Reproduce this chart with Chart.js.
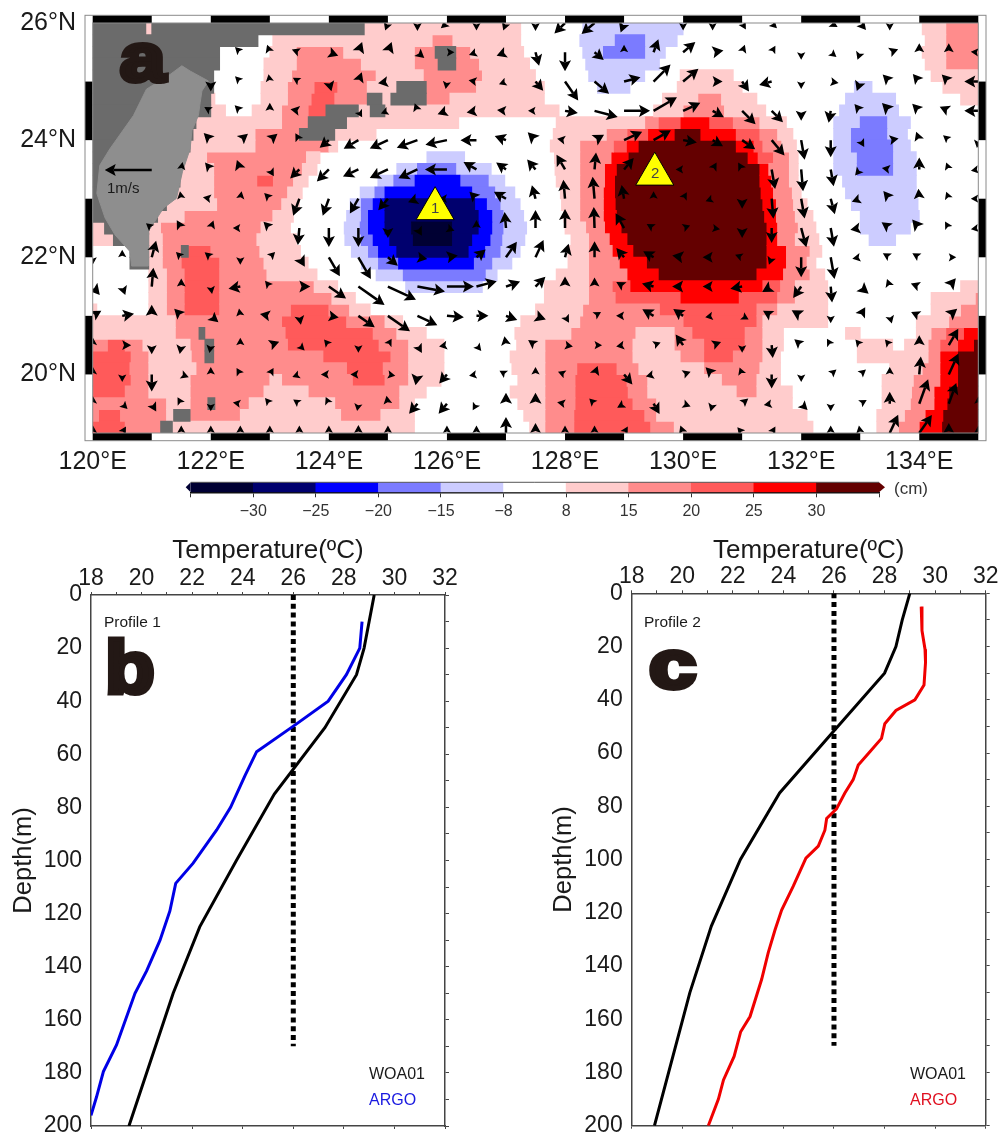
<!DOCTYPE html>
<html>
<head>
<meta charset="utf-8">
<title>SSH anomaly and temperature profiles</title>
<script src="https://cdn.jsdelivr.net/npm/chart.js@4/dist/chart.umd.min.js"></script>
<style>
  html, body { margin: 0; padding: 0; background: #fff; overflow: hidden; }
  #page { position: relative; width: 1003px; height: 1135px; overflow: hidden; font-family: "Liberation Sans", sans-serif; }
  canvas { position: absolute; }
  .txt { position: absolute; white-space: nowrap; line-height: 1; color: #1a1a1a; }
  .big { font-weight: bold; color: #231815; -webkit-text-stroke: 5px #231815; transform-origin: left top; }
</style>
</head>
<body>
<div id="page">
  <canvas id="mapChart" style="left:0;top:0"></canvas>
  <canvas id="barChart" style="left:0;top:470px"></canvas>
  <canvas id="profile1" style="left:0;top:530px"></canvas>
  <canvas id="profile2" style="left:540px;top:530px"></canvas>

  <div class="txt big" style="left:120px;top:23px;font-size:68px;transform:scaleX(1.2)">a</div>
  <div class="txt big" style="left:105px;top:631px;font-size:74px;transform:scaleX(1.1)">b</div>
  <div class="txt big" style="left:649px;top:630px;font-size:68px;transform:scaleX(1.25)">c</div>
  <div class="txt" style="left:107px;top:180px;font-size:15px">1m/s</div>
  <div class="txt" style="left:431px;top:200px;font-size:15px;color:#444">1</div>
  <div class="txt" style="left:651px;top:165px;font-size:15px;color:#444">2</div>
  <div class="txt" style="left:894px;top:480px;font-size:17px;color:#333">(cm)</div>
  <div class="txt" style="left:104px;top:614px;font-size:15.5px">Profile 1</div>
  <div class="txt" style="left:644px;top:614px;font-size:15.5px">Profile 2</div>
  <div class="txt" style="left:369px;top:1066px;font-size:16px">WOA01</div>
  <div class="txt" style="left:369px;top:1092px;font-size:16px;color:#1a1ae0">ARGO</div>
  <div class="txt" style="left:910px;top:1066px;font-size:16px">WOA01</div>
  <div class="txt" style="left:910px;top:1092px;font-size:16px;color:#e01020">ARGO</div>
</div>

<script>
// Axis ticks
const lonTicks = [120, 122, 124, 126, 128, 130, 132, 134];
const latTicks = [20, 22, 24, 26];
const barLabels = ['\u221230', '\u221225', '\u221220', '\u221215', '\u22128', '8', '15', '20', '25', '30'];

// Class colours: E..A negative, a..e positive, L land
const heatColors = {
    L: '#6b6b6b', E: '#000033', D: '#00006e', C: '#0000ff', B: '#7b7bff', A: '#ccccff',
    a: '#ffcccc', b: '#ff8c8c', c: '#ff5a5a', d: '#ff0000', e: '#640000'
};
const barClasses = ['E', 'D', 'C', 'B', 'A', '0', 'a', 'b', 'c', 'd', 'e'];

// Height anomaly classes, one row per latitude: "lon:class" runs up to the next lon
const heatLats = [25.9, 25.7, 25.5, 25.3, 25.1, 24.9, 24.7, 24.5, 24.3, 24.1, 23.9, 23.7, 23.5, 23.3, 23.1, 22.9, 22.7, 22.5,
    22.3, 22.1, 21.9, 21.7, 21.5, 21.3, 21.1, 20.9, 20.7, 20.5, 20.3, 20.1, 19.9, 19.7, 19.5, 19.3, 19.1];
const heatRows = [
    '120:L 120.9:a 121:L 124.6:a 127.25:0 128.3:A 130:0 134.05:a 134.45:b',
    '120:L 122.8:0 123.05:a 125.75:b 126.1:a 127.25:0 128.25:A 128.85:B 129.35:A 129.9:0 134.1:a 134.45:b',
    '120:L 122.15:0 123:a 123.45:b 124.25:a 125.45:b 125.8:L 126.15:b 126.4:a 127.3:0 128.3:A 128.65:B 129.35:A 129.7:0 134.05:a 134.45:b',
    '120:L 122.15:0 122.9:a 123.45:b 124.55:a 125.45:b 125.85:L 126.15:b 126.55:a 127.4:0 128.35:A 129.6:0 134.1:a 134.45:b',
    '120:L 122.05:0 122.9:a 123.37:b 124.8:a 125.6:b 126.6:a 127.5:0 128.4:A 129.35:0 129.95:a 130.85:0 134.2:a',
    '120:L 122.05:0 122.85:a 123.3:b 123.75:c 124.15:b 124.65:a 125.15:L 125.65:b 126.5:a 127.65:0 128.55:A 129.1:0 129.9:a 131:0 132.9:A 133.2:0 134.4:a',
    '120:L 122:a 122.07:0 122.85:a 123.3:b 123.7:c 124.1:b 124.65:L 124.9:a 125.05:L 125.65:b 126.05:a 127.65:0 129.65:a 130.25:b 130.65:a 131.25:0 132.75:A 133.6:0 134.7:a',
    '120:L 122:a 122.25:0 122.7:a 123.2:b 123.65:c 123.95:L 124.5:a 124.7:L 124.95:a 127.9:0 129.5:a 130:b 130.7:a 131.4:0 132.65:A 133.65:0',
    '120:L 121.75:a 123.2:b 123.65:L 124.3:a 126.2:0 127.85:a 129.35:b 129.58:c 129.95:d 130.45:c 130.85:b 131.3:a 131.75:0 132.55:A 133:B 133.45:A 133.85:0',
    '120:L 121.7:a 122.75:b 123.5:L 124.1:a 124.8:0 127.8:a 128.7:b 129.05:c 129.4:d 129.85:e 130.3:d 130.9:c 131.3:b 131.6:a 131.86:0 132.55:A 132.85:B 133.45:A 133.8:0',
    '120:L 121.65:a 122.75:b 124:a 124.15:0 127.75:a 128.25:b 128.82:c 129.04:d 129.24:e 130.9:d 131.2:c 131.35:b 131.67:a 131.92:0 132.55:A 132.85:B 133.55:A 133.85:0',
    '120:L 121.55:a 121.93:b 123.62:a 123.85:0 125.66:A 126.3:0 127.82:a 128.25:b 128.78:d 129.07:e 131.1:d 131.27:c 131.53:b 131.8:a 131.95:0 132.55:A 132.95:B 133.55:A 133.95:0',
    '120:L 121.5:a 122.05:b 123.55:a 123.8:0 125.15:A 125.5:B 126.15:A 126.75:0 127.83:a 128.25:b 128.67:d 128.87:e 131.3:d 131.45:b 131.8:a 131.95:0 132.55:A 132.95:B 133.55:A 133.95:0',
    '120:L 121.48:a 122.05:b 122.78:c 123.06:b 123.4:a 123.65:0 124.83:A 125.1:B 125.46:C 126.22:B 126.7:A 126.98:0 127.85:a 128.25:b 128.67:d 128.84:e 131.3:d 131.5:b 131.8:a 131.95:0 132.7:A 133.95:0',
    '120:L 121.4:a 122.05:b 123.3:a 123.55:0 124.53:A 124.78:B 124.95:C 126.42:B 126.81:A 127.15:0 127.92:a 128.25:b 128.65:d 128.84:e 131.32:d 131.53:b 131.85:a 132:0 132.75:A 133.95:0',
    '120:L 121.25:a 122.1:b 123.2:a 123.5:0 124.36:A 124.55:B 124.75:C 124.95:D 126.47:C 126.67:B 126.9:A 127.24:0 127.94:a 128.25:b 128.65:d 128.85:e 131.35:d 131.58:b 131.87:a 132.1:0 132.85:A 133.98:0',
    '120:L 121.1:a 121.55:b 123.05:a 123.4:0 124.3:A 124.55:B 124.67:C 124.95:D 126.53:C 126.76:B 126.95:A 127.3:0 127.98:a 128.25:b 128.65:d 128.87:e 131.38:d 131.58:b 131.9:a 132.2:0 133:A 134:0',
    '120:a 120.2:L 120.95:a 121.15:b 122.85:a 123.35:0 124.26:A 124.53:B 124.67:C 124.95:D 125.4:E 126.08:D 126.53:C 126.76:B 126.95:A 127.35:0 128:a 128.35:b 128.67:d 128.95:e 131.42:d 131.6:b 131.95:a 132.25:0 133:A 133.85:0',
    '120:a 120.35:L 120.95:a 121.18:b 122.78:a 123.45:0 124.27:A 124.55:B 124.75:C 125.03:D 125.43:E 126.08:D 126.42:C 126.73:B 126.93:A 127.32:0 128.1:a 128.4:b 128.75:d 129.05:e 131.42:d 131.6:b 131.9:a 132.3:0 133.15:A 133.6:0',
    '120:0 120.63:L 120.95:a 121.18:b 121.5:L 121.62:c 122:b 122.83:a 123.52:0 124.38:A 124.67:B 124.84:C 125.15:D 126.36:C 126.64:B 126.9:A 127.24:0 128.05:a 128.4:b 128.8:d 129.15:e 131.42:d 131.75:b 132.15:a 132.35:0',
    '120:0 120.63:L 120.95:a 121.18:b 121.5:c 122.15:b 122.9:a 123.65:0 124.55:A 124.84:B 125.18:C 126.45:B 126.76:A 127.1:0 128.05:a 128.4:b 128.92:d 129.38:e 131.42:d 131.75:b 132.1:a 132.25:0',
    '120:0 120.95:a 121.25:b 121.55:c 122.15:b 122.95:a 123.8:0 124.8:A 125.26:B 126.65:A 126.85:0 127.85:a 128.4:b 129.05:d 129.58:e 131.25:d 131.7:b 132.15:a 132.4:0',
    '120:0 120.95:a 121.25:b 121.55:c 122.15:b 123.75:a 124.15:0 125.3:A 126.6:0 127.65:a 128.4:b 128.8:c 129.1:d 131.35:c 131.65:b 131.9:a 132.45:0 134.7:a',
    '120:0 120.95:a 121.25:b 121.55:c 122.15:b 124.05:a 124.45:0 127.65:a 128.4:b 128.85:c 129.95:d 130.95:c 131.6:b 131.9:a 132.45:0 134.2:a 134.95:b',
    '120:a 120.07:0 120.95:a 121.25:b 121.55:c 122.15:b 123.35:c 124:b 124.35:a 124.7:0 127.5:a 128.3:b 129.6:c 131.25:b 131.6:a 132.45:0 134.2:a 134.7:b',
    '120:a 121.4:b 123.2:c 124.3:b 124.95:a 125.25:0 127.25:a 128.25:b 130:c 131.25:b 131.35:a 132.45:0 133.95:a 134.5:b',
    '120:a 121.4:b 121.8:L 121.9:b 123.26:c 124.75:b 125.15:a 125.65:0 127.15:a 128.1:b 129.2:a 129.85:b 130.15:c 131.05:b 131.35:a 131.7:0 132.75:a 133:0 133.95:a 134.2:b 134.45:c 134.75:d',
    '120:b 120.25:c 120.55:b 120.85:a 121.65:b 121.9:L 122.05:b 123.3:c 124.85:b 125.35:a 125.95:0 127.18:a 127.66:b 129.15:a 129.85:b 130.35:c 131.05:b 131.35:a 131.7:0 132.95:a 133.55:0 133.75:a 134.15:b 134.35:c 134.65:d 134.92:e',
    '120:c 120.65:b 120.95:a 121.67:b 121.9:L 122.05:b 123.9:c 125.05:b 125.35:a 125.95:0 127.07:a 127.66:b 129.15:a 129.95:b 130.35:c 130.85:b 131.35:a 131.65:0 132.95:a 134.15:b 134.35:d 134.65:e',
    '120:c 120.63:b 120.95:a 121.75:b 124.3:c 124.92:b 125.35:a 125.95:0 127.1:a 127.66:b 128.2:c 128.88:b 129.25:a 130.35:b 131.3:a 131.65:0 133.5:a 134.05:b 134.35:d 134.65:e',
    '120:c 120.65:b 120.95:a 121.65:b 123:a 123.2:b 124.4:c 124.95:b 125.35:a 125.9:0 127.2:a 127.66:b 128.17:c 129.05:b 129.4:a 130.65:b 131.25:a 131.65:0 133.37:a 133.9:b 134.35:d 134.65:e',
    '120:c 120.55:b 120.95:a 121.65:b 122.9:a 123.65:b 125.2:a 125.65:0 127.07:a 127.66:b 128.17:c 129.07:b 129.4:a 130.9:b 131.25:a 131.85:0 133.37:a 133.87:b 134.25:d 134.5:e',
    '120:b 121.25:a 121.65:b 121.95:L 122.07:b 122.65:a 124.1:b 125.2:a 125.45:0 127.2:a 127.66:b 128.17:c 129.15:b 129.55:a 131.85:0 133.37:a 133.85:b 134.25:d 134.47:e',
    '120:b 120.1:c 120.47:b 121.25:a 121.37:L 121.65:b 122.5:a 124.2:b 124.88:a 125.45:0 127.3:a 127.66:b 128.15:c 129.35:b 129.55:a 132.1:0 133.28:a 133.75:b 134.1:d 134.4:e',
    '120:c 120.55:b 121.15:L 121.35:a 125.45:0 127.4:a 127.66:b 128.15:c 129.45:b 129.85:a 132.2:0 133.28:a 133.65:b 134:d 134.38:e'
];

// Taiwan outline
const taiwanLon = [121.51, 121.65, 121.96, 121.85, 121.82, 121.79, 121.68, 121.65, 121.52, 121.42, 121.2, 120.94, 120.94, 120.94,
    120.66, 120.63, 120.38, 120.21, 120.07, 120.12, 120.29, 120.69, 120.91, 121.31, 121.51];
const taiwanLat = [25.27, 25.18, 25.01, 24.84, 24.64, 24.42, 24.16, 23.85, 23.46, 23.01, 22.84, 22.44, 22.21, 21.85,
    21.85, 22.1, 22.38, 22.67, 23.09, 23.57, 23.85, 24.42, 24.87, 25.12, 25.27];

// Current vectors on the half degree grid
const _ = null;
const arrowLons = [120, 120.5, 121, 121.5, 122, 122.5, 123, 123.5, 124, 124.5, 125, 125.5, 126, 126.5, 127, 127.5, 128, 128.5, 129, 129.5,
    130, 130.5, 131, 131.5, 132, 132.5, 133, 133.5, 134, 134.5, 135];
const arrowLats = [26, 25.5, 25, 24.5, 24, 23.5, 23, 22.5, 22, 21.5, 21, 20.5, 20, 19.5, 19];
// direction in degrees, 0 = east, 90 = north
const arrowDir = [
    [_,_,_,_,_,_,_,_,_,_,250,270,220,270,250,270,225,220,250,90,270,270,300,315,_,330,310,270,_,_,_],
    [_,_,_,_,_,135,110,160,340,70,70,320,0,200,200,285,270,320,90,70,40,10,70,60,270,320,250,20,90,90,175],
    [_,_,_,_,270,135,100,150,285,70,190,_,260,170,200,310,305,320,15,45,40,0,305,195,270,350,250,135,130,135,180],
    [_,_,_,_,150,135,90,170,_,300,200,110,200,190,175,180,350,345,0,30,25,330,315,315,270,260,130,135,135,155,180],
    [_,_,_,_,135,40,40,120,220,210,205,200,192,180,160,135,170,30,25,30,350,330,325,310,280,270,300,10,110,140,260],
    [_,_,_,80,130,110,300,225,225,205,205,205,180,150,145,130,120,85,50,30,180,60,120,280,275,280,230,170,90,110,190],
    [_,_,_,100,170,80,135,250,250,240,230,200,180,135,150,105,95,95,100,90,60,200,270,275,280,285,200,130,95,110,180],
    [_,_,140,120,70,180,135,265,270,270,270,300,340,90,95,90,90,92,120,150,20,350,270,270,285,280,190,145,130,120,190],
    [270,90,75,135,140,270,45,300,300,300,320,350,10,40,55,65,75,90,130,150,170,180,160,250,270,280,190,150,150,0,_],
    [310,290,85,90,280,190,130,0,325,325,335,350,0,15,20,45,90,90,150,165,180,180,190,210,235,275,320,110,160,50,_],
    [30,10,90,135,320,100,170,280,350,325,325,335,355,0,340,340,300,30,180,150,145,190,330,150,150,270,60,285,155,40,_],
    [90,0,270,260,260,90,20,315,130,270,60,300,190,310,100,145,350,0,190,20,125,20,270,275,140,120,130,130,90,60,_],
    [90,270,270,340,90,120,60,200,180,180,350,260,230,190,150,90,160,70,310,195,20,135,110,270,270,40,40,90,85,65,_],
    [90,315,300,120,270,170,130,145,115,260,100,230,230,240,90,90,170,135,210,300,340,255,40,190,315,270,30,90,70,70,90],
    [90,60,_,90,90,90,90,90,90,90,90,_,90,90,90,90,90,90,60,_,110,_,130,60,_,90,100,65,55,90,90]
];
// speed, 47 = 1 m/s
const arrowSpeed = [
    [_,_,_,_,_,_,_,_,_,_,8,8,8,7,8,8,15,17,10,6,6,6,5,7,_,8,9,7,_,_,_],
    [_,_,_,_,_,5,8,8,10,11,11,9,5,8,10,14,19,12,5,14,16,11,8,6,5,6,8,9,9,9,5],
    [_,_,_,_,10,6,6,6,10,10,10,_,6,8,6,12,23,19,17,24,20,10,12,13,5,8,10,10,10,10,14],
    [_,_,_,_,5,8,8,9,_,5,6,8,10,10,9,6,13,24,26,27,19,13,19,16,10,12,9,11,10,10,14],
    [_,_,_,_,10,10,10,8,12,17,20,22,22,16,12,11,8,11,20,20,14,12,16,20,20,17,8,9,9,7,8],
    [_,_,_,6,9,10,8,13,17,17,20,21,22,15,12,13,17,17,15,8,5,8,8,20,22,17,8,8,12,6,4],
    [_,_,_,6,8,7,8,18,18,17,15,10,8,10,14,14,19,22,14,6,5,7,10,20,20,16,9,10,10,6,3],
    [_,_,6,9,8,6,9,17,19,19,10,9,8,8,16,18,19,21,17,8,7,7,10,15,20,19,10,10,11,6,4],
    [5,5,17,6,8,6,5,11,22,25,13,10,11,12,19,19,14,16,12,12,11,10,7,8,20,22,8,8,8,6,_],
    [11,9,19,8,7,12,6,11,21,32,31,28,27,21,15,14,10,9,9,12,11,10,12,11,14,16,11,8,9,11,_],
    [10,12,11,10,10,6,10,9,10,20,27,22,17,12,12,11,8,7,8,13,12,7,7,10,11,6,10,8,9,11,_],
    [8,9,9,9,8,6,10,7,7,7,7,9,8,6,9,9,8,6,8,7,13,9,7,13,9,6,7,5,10,19,_],
    [8,7,17,8,7,6,7,7,8,8,7,11,12,6,7,7,6,9,13,8,8,10,7,14,5,5,5,7,18,23,_],
    [8,6,9,5,6,7,7,5,6,7,8,13,13,7,11,11,8,5,8,12,8,8,8,8,9,5,6,12,26,22,6],
    [8,5,_,4,6,6,3,4,6,8,6,_,5,7,16,10,6,3,5,_,8,_,6,5,_,3,6,20,22,10,4]
];

// Reference arrow and the two profile sites
const refArrowLon = [121];
const refArrowLat = [23.49];
const refArrowDir = [180];
const refArrowSpeed = [47];
const siteLon = [125.8, 129.52];
const siteLat = [22.83, 23.42];

// Profile 1
const woaDepth = [0, 10, 20, 30, 50, 75, 100, 125, 150, 200];
const woaTemp1 = [29.2, 29.0, 28.8, 28.5, 27.25, 25.25, 23.75, 22.3, 21.25, 19.5];
const argoDepth1 = [10, 20, 30, 40, 49, 59, 68, 80, 88.5, 101, 108.6, 119, 130, 141.6, 150, 169.5, 179.5, 189, 196];
const argoTemp1 = [28.72, 28.63, 28.1, 27.38, 26.06, 24.55, 24.09, 23.52, 22.97, 22.04, 21.35, 21.12, 20.73, 20.2, 19.74, 19.01, 18.49, 18.22, 18];

// Profile 2
const woaTemp2 = [29, 28.7, 28.45, 28, 26.15, 23.85, 22.3, 21.15, 20.3, 18.9];
const argoDepth2 = [5, 14, 21, 26, 34.5, 40, 44, 49, 54.5, 59.5, 64.5, 70, 75, 81, 84.6, 89, 95, 99.5, 110, 119, 126.4, 135, 145, 159, 164.7, 174, 182.8, 190, 200];
const argoTemp2 = [29.45, 29.48, 29.6, 29.62, 29.56, 29.2, 28.45, 28.01, 27.88, 27.42, 26.96, 26.76, 26.43, 26.1, 25.71, 25.64, 25.38, 24.89, 24.39, 23.93, 23.67, 23.4, 23.14, 22.68, 22.31, 22.05, 21.63, 21.43, 21.03];

// 26 degree reference line
const refTemp = [26, 26];
const refDepth = [0, 170];

Chart.defaults.font.family = '"Liberation Sans", sans-serif';
Chart.defaults.color = '#1a1a1a';
Chart.defaults.animation = false;
Chart.defaults.plugins.legend.display = false;
Chart.defaults.plugins.tooltip.enabled = false;

function sizeCanvas(id, w, h) {
    const el = document.getElementById(id);
    el.width = w;
    el.height = h;
    el.style.width = w + 'px';
    el.style.height = h + 'px';
    return el;
}

// Fix the axis box and drop the room Chart.js keeps for overhanging labels
function fixedSize(prop, value) {
    return scale => {
        scale[prop] = value;
        scale.paddingTop = 0;
        scale.paddingBottom = 0;
        scale.paddingLeft = 0;
        scale.paddingRight = 0;
    };
}

function setTicks(values) {
    return scale => { scale.ticks = values.map(v => ({ value: v })); };
}

// Runs of one class become floating horizontal bars
function heatDatasets() {
    const byClass = {};
    heatRows.forEach((row, r) => {
        const runs = row.split(' ').map(t => t.split(':'));
        runs.forEach((run, i) => {
            if (run[1] === '0') return;
            const end = i + 1 < runs.length ? parseFloat(runs[i + 1][0]) : 135;
            (byClass[run[1]] = byClass[run[1]] || []).push({ x: [parseFloat(run[0]), end], y: heatLats[r] });
        });
    });
    return Object.keys(heatColors).map(code => ({
        type: 'bar',
        indexAxis: 'y',
        order: 10,
        grouped: false,
        barThickness: 12,
        inflateAmount: 0.4,
        borderWidth: 0,
        backgroundColor: heatColors[code],
        data: byClass[code] || []
    }));
}

function arrowPoints() {
    const pts = [];
    arrowLats.forEach((lat, r) => {
        arrowLons.forEach((lon, c) => {
            if (arrowDir[r][c] !== null) pts.push({ x: lon, y: lat, dir: arrowDir[r][c], speed: arrowSpeed[r][c] });
        });
    });
    return pts;
}

function drawArrow(ctx, x, y, dir, speed) {
    const head = Math.min(Math.max(speed, 7.5), 11);
    const len = Math.max(speed, head);
    const half = head * 0.55;
    ctx.save();
    ctx.translate(x, y);
    ctx.rotate(-dir * Math.PI / 180);
    ctx.lineWidth = 2.5;
    if (len > head) {
        ctx.beginPath();
        ctx.moveTo(0, 0);
        ctx.lineTo(len - head * 0.8, 0);
        ctx.stroke();
    }
    ctx.beginPath();
    ctx.moveTo(len, 0);
    ctx.lineTo(len - head, half);
    ctx.lineTo(len - head * 0.8, 0);
    ctx.lineTo(len - head, -half);
    ctx.closePath();
    ctx.fill();
    ctx.restore();
}

// Vectors are drawn at the points of their scatter dataset
const arrowPlugin = {
    id: 'arrowPlugin',
    afterDatasetDraw(chart, args) {
        const ds = chart.data.datasets[args.index];
        if (!ds.isArrows) return;
        const ctx = chart.ctx;
        const area = chart.chartArea;
        ctx.save();
        ctx.beginPath();
        ctx.rect(area.left, area.top, area.width, area.height);
        ctx.clip();
        ctx.fillStyle = '#000';
        ctx.strokeStyle = '#000';
        args.meta.data.forEach((el, i) => {
            const p = ds.data[i];
            drawArrow(ctx, el.x, el.y, p.dir, p.speed);
        });
        ctx.restore();
    }
};

// Checkered map border, one degree per box
const framePlugin = {
    id: 'framePlugin',
    afterDraw(chart) {
        const ctx = chart.ctx;
        const { left, right, top, bottom } = chart.chartArea;
        const x = chart.scales.x;
        const y = chart.scales.y;
        const band = 7.7;
        ctx.save();
        ctx.fillStyle = '#000';
        for (let lon = 120; lon < 135; lon += 2) {
            const a = x.getPixelForValue(lon);
            const b = x.getPixelForValue(lon + 1);
            ctx.fillRect(a, top - band, b - a, band);
            ctx.fillRect(a, bottom, b - a, band);
        }
        for (let lat = 20; lat < 26; lat += 2) {
            const a = y.getPixelForValue(lat + 1);
            const b = y.getPixelForValue(lat);
            ctx.fillRect(left - band, a, band, b - a);
            ctx.fillRect(right, a, band, b - a);
        }
        ctx.strokeStyle = '#8a8a8a';
        ctx.lineWidth = 1;
        ctx.strokeRect(left - band, top - band, right - left + 2 * band, bottom - top + 2 * band);
        ctx.strokeRect(left, top, right - left, bottom - top);
        ctx.restore();
    }
};

sizeCanvas('mapChart', 1003, 470);
new Chart('mapChart', {
    type: 'scatter',
    data: {
        datasets: [
            {
                order: 1,
                data: siteLon.map((v, i) => ({ x: v, y: siteLat[i] })),
                pointStyle: 'triangle',
                pointRadius: 22,
                pointBackgroundColor: '#ffff00',
                pointBorderColor: '#000',
                pointBorderWidth: 1
            },
            {
                order: 2,
                isArrows: true,
                data: refArrowLon.map((v, i) => ({ x: v, y: refArrowLat[i], dir: refArrowDir[i], speed: refArrowSpeed[i] })),
                pointRadius: 0
            },
            {
                order: 3,
                isArrows: true,
                data: arrowPoints(),
                pointRadius: 0
            },
            {
                order: 5,
                data: taiwanLon.map((v, i) => ({ x: v, y: taiwanLat[i] })),
                showLine: true,
                fill: 'shape',
                tension: 0,
                backgroundColor: '#8e8e8e',
                borderColor: '#8e8e8e',
                borderWidth: 1,
                pointRadius: 0
            },
            ...heatDatasets()
        ]
    },
    options: {
        responsive: false,
        events: [],
        layout: { padding: { left: 0, top: 20, right: 24.7, bottom: 0 } },
        scales: {
            x: {
                type: 'linear', min: 120, max: 135, offset: false,
                grid: { display: false, drawTicks: false },
                border: { display: false },
                afterFit: fixedSize('height', 37),
                afterBuildTicks: setTicks(lonTicks),
                ticks: { font: { size: 25 }, padding: 14, maxRotation: 0, autoSkip: false, callback: v => v + '\u00b0E' }
            },
            y: {
                type: 'linear', min: 19, max: 26, offset: false,
                grid: { display: false, drawTicks: false },
                border: { display: false },
                afterFit: fixedSize('width', 92.7),
                afterBuildTicks: setTicks(latTicks),
                ticks: { font: { size: 25 }, padding: 16.7, autoSkip: false, callback: v => v + '\u00b0N' }
            }
        }
    },
    plugins: [arrowPlugin, framePlugin]
});

// Colour scale below the map
const barEnds = {
    id: 'barEnds',
    afterDraw(chart) {
        const ctx = chart.ctx;
        const { left, right, top, bottom } = chart.chartArea;
        const mid = (top + bottom) / 2;
        ctx.save();
        ctx.fillStyle = heatColors.E;
        ctx.beginPath();
        ctx.moveTo(left, top);
        ctx.lineTo(left - 5, mid);
        ctx.lineTo(left, bottom);
        ctx.fill();
        ctx.fillStyle = heatColors.e;
        ctx.beginPath();
        ctx.moveTo(right, top);
        ctx.lineTo(right + 6, mid);
        ctx.lineTo(right, bottom);
        ctx.fill();
        ctx.strokeStyle = '#555';
        ctx.lineWidth = 1;
        ctx.beginPath();
        ctx.moveTo(left, top);
        ctx.lineTo(right, top);
        ctx.stroke();
        ctx.restore();
    }
};

sizeCanvas('barChart', 1003, 60);
new Chart('barChart', {
    type: 'bar',
    data: {
        labels: ['scale'],
        datasets: [{
            grouped: false,
            barPercentage: 1,
            categoryPercentage: 1,
            borderWidth: 0,
            backgroundColor: barClasses.map(c => heatColors[c] || '#ffffff'),
            data: barClasses.map((c, i) => ({ x: [i, i + 1], y: 'scale' }))
        }]
    },
    options: {
        indexAxis: 'y',
        responsive: false,
        events: [],
        layout: { padding: { left: 190.7, top: 12.3, right: 124, bottom: 0 } },
        scales: {
            x: {
                type: 'linear', min: 0, max: 11,
                beginAtZero: false,
                grid: { drawOnChartArea: false, tickLength: 5, color: '#333' },
                border: { color: '#111', width: 1.5 },
                afterFit: fixedSize('height', 37.7),
                afterBuildTicks: setTicks([0, 1, 2, 3, 4, 5, 6, 7, 8, 9, 10, 11]),
                ticks: { font: { size: 16 }, color: '#333', padding: 5, maxRotation: 0, autoSkip: false, callback: v => barLabels[v - 1] || '' }
            },
            y: { display: false }
        }
    },
    plugins: [barEnds]
});

function profileChart(id, width, plotLeft, plotRight, top, bottom, woaTemp, argoTemp, argoDepth, argoColor) {
    const toPts = (xs, ys) => xs.map((v, i) => ({ x: v, y: ys[i] }));
    const line = (data, color, w, dash) => ({
        data, showLine: true, tension: 0, borderColor: color, borderWidth: w, borderDash: dash || [], pointRadius: 0, fill: false
    });
    const axisColor = '#444';
    sizeCanvas(id, width, 605);
    return new Chart(id, {
        type: 'scatter',
        data: {
            datasets: [
                line(toPts(argoTemp, argoDepth), argoColor, 3),
                line(toPts(woaTemp, woaDepth), '#000', 3),
                line(toPts(refTemp, refDepth), '#000', 5, [5, 3.8])
            ]
        },
        options: {
            responsive: false,
            events: [],
            layout: { padding: { left: 0, top: 0, right: 0, bottom: 0 } },
            scales: {
                x: {
                    type: 'linear', position: 'top', min: 18, max: 32,
                    grid: { drawOnChartArea: false, tickLength: 3, color: axisColor },
                    border: { color: axisColor, width: 1.5 },
                    afterFit: fixedSize('height', top),
                    ticks: { stepSize: 1, font: { size: 23 }, padding: 0, maxRotation: 0, autoSkip: false, callback: v => v % 2 === 0 ? v : '' },
                    title: { display: true, text: 'Temperature(\u00baC)', font: { size: 26 }, padding: { top: 5, bottom: 0 } }
                },
                x2: {
                    type: 'linear', position: 'bottom', min: 18, max: 32,
                    grid: { drawOnChartArea: false, tickLength: 3, color: axisColor },
                    border: { color: axisColor, width: 1.5 },
                    afterFit: fixedSize('height', 605 - bottom),
                    ticks: { stepSize: 2, callback: () => '' }
                },
                y: {
                    type: 'linear', reverse: true, min: 0, max: 200,
                    grid: { drawOnChartArea: false, drawTicks: false },
                    border: { color: axisColor, width: 1.5 },
                    afterFit: fixedSize('width', plotLeft),
                    ticks: { stepSize: 20, font: { size: 23 }, padding: 9, autoSkip: false },
                    title: { display: true, text: 'Depth(m)', font: { size: 25.5 }, padding: { top: 9, bottom: 0 } }
                },
                y2: {
                    type: 'linear', position: 'right', reverse: true, min: 0, max: 200,
                    grid: { drawOnChartArea: false, tickLength: 4, color: axisColor },
                    border: { color: axisColor, width: 1.5 },
                    afterFit: fixedSize('width', width - plotRight),
                    ticks: { stepSize: 10, autoSkip: false, callback: () => '' }
                }
            }
        }
    });
}

profileChart('profile1', 500, 91, 445, 65, 596, woaTemp1, argoTemp1, argoDepth1, '#0000e6');
profileChart('profile2', 463, 91.7, 445.7, 63.3, 595.7, woaTemp2, argoTemp2, argoDepth2, '#f00000');
</script>
</body>
</html>
